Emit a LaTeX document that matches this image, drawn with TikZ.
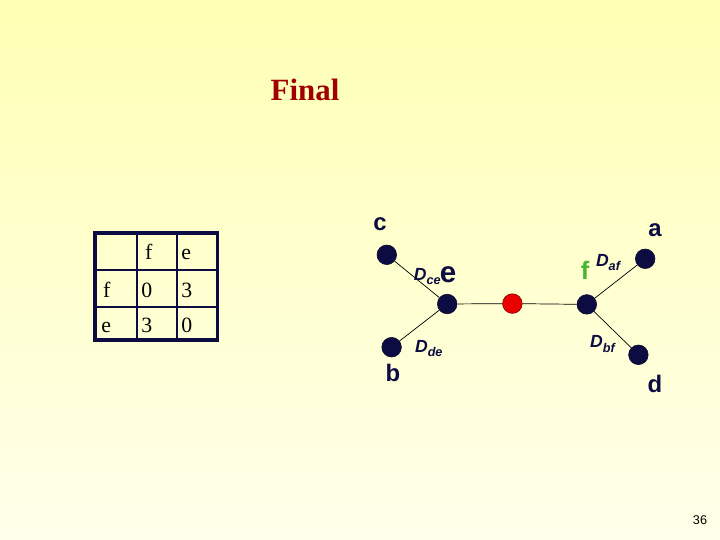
\documentclass[tikz,border=0pt]{standalone}
\usepackage{fontspec}
\setmainfont{Liberation Serif}
\setsansfont{Liberation Sans}
\usetikzlibrary{positioning}
\definecolor{Navy}{HTML}{0C0C42}
\definecolor{Crimson}{HTML}{A00000}
\definecolor{Leaf}{HTML}{44B834}
\definecolor{TopBg}{HTML}{FFFFB4}
\definecolor{BotBg}{HTML}{FFFFEA}
\newcommand{\dlabel}[1]{D\raisebox{-0.45ex}{\fontsize{9}{9}\selectfont #1}}

\begin{document}
\begin{tikzpicture}[
  dot/.style={circle,draw=Navy!70!black,fill=Navy,minimum size=4.9mm,inner sep=0pt},
  rootdot/.style={circle,draw=red!45!black,fill=red!92!black,minimum size=4.9mm,inner sep=0pt},
  link/.style={black,line width=0.5pt},
  leaf/.style={font=\sffamily\bfseries\fontsize{17}{17}\selectfont,text=Navy,inner sep=0pt},
  dist/.style={font=\sffamily\bfseries\itshape\fontsize{12.5}{13}\selectfont,text=Navy,inner sep=0pt},
  cell/.style={anchor=base west,font=\fontsize{15.5}{16}\selectfont,inner sep=0pt},
  tablegrid/.style={draw=Navy,line width=1.6pt}
]
\fill[top color=TopBg,bottom color=BotBg] (0,0) rectangle (18,13.5);
\useasboundingbox (0,0) rectangle (18,13.5);

\node[font=\bfseries\fontsize{22}{22}\selectfont,text=Crimson] (title) at (7.625,11.25) {Final};

% distance table
\draw[tablegrid,line width=2.2pt] (2.375,5.0) rectangle (5.44,7.675);
\draw[tablegrid] (3.42,5.0)--(3.42,7.675);
\draw[tablegrid] (4.43,5.0)--(4.43,7.675);
\draw[tablegrid] (2.375,6.75)--(5.44,6.75);
\draw[tablegrid] (2.375,5.82)--(5.44,5.82);
\node[cell] (colf) at (3.62,7.0) {f};
\node[cell] (cole) at (4.53,7.0) {e};
\node[cell] (rowf) at (2.57,6.05) {f};
\node[cell] (rowe) at (2.53,5.175) {e};
\node[cell] (ff) at (3.53,6.05) {0};
\node[cell] (fe) at (4.53,6.05) {3};
\node[cell] (ef) at (3.53,5.175) {3};
\node[cell] (ee) at (4.53,5.175) {0};

% tree
\node[dot] (c) at (9.67,7.13) {};
\node[dot] (b) at (9.79,4.82) {};
\node[dot] (e) at (11.18,5.90) {};
\node[rootdot] (mid) at (12.81,5.91) {};
\node[dot] (f) at (14.67,5.89) {};
\node[dot] (a) at (16.13,7.03) {};
\node[dot] (d) at (15.96,4.63) {};

\draw[link] (c)--(e);
\draw[link] (b)--(e);
\draw[link] (e)--(mid);
\draw[link] (mid)--(f);
\draw[link] (f)--(a);
\draw[link] (f)--(d);

\node[leaf] (clabel) at (9.5,7.9) {c};
\node[leaf] (alabel) at (16.375,7.75) {a};
\node[leaf] (blabel) at (9.825,4.175) {b};
\node[leaf] (dlabel) at (16.375,3.9) {d};
\node[dist] (dce) at (10.68,6.58) {\dlabel{ce}};
\node[leaf,font=\sffamily\bfseries\fontsize{21}{21}\selectfont] (elabel) at (11.2,6.64) {e};
\node[leaf,text=Leaf,font=\sffamily\bfseries\fontsize{18}{18}\selectfont] (flabel) at (14.63,6.73) {f};
\node[dist] (daf) at (15.2,6.93) {\dlabel{af}};
\node[dist] (dde) at (10.72,4.78) {\dlabel{de}};
\node[dist] (dbf) at (15.06,4.9) {\dlabel{bf}};

\node[font=\sffamily\fontsize{9}{9}\selectfont] (page) at (17.5,0.5) {36};
\end{tikzpicture}
\end{document}
